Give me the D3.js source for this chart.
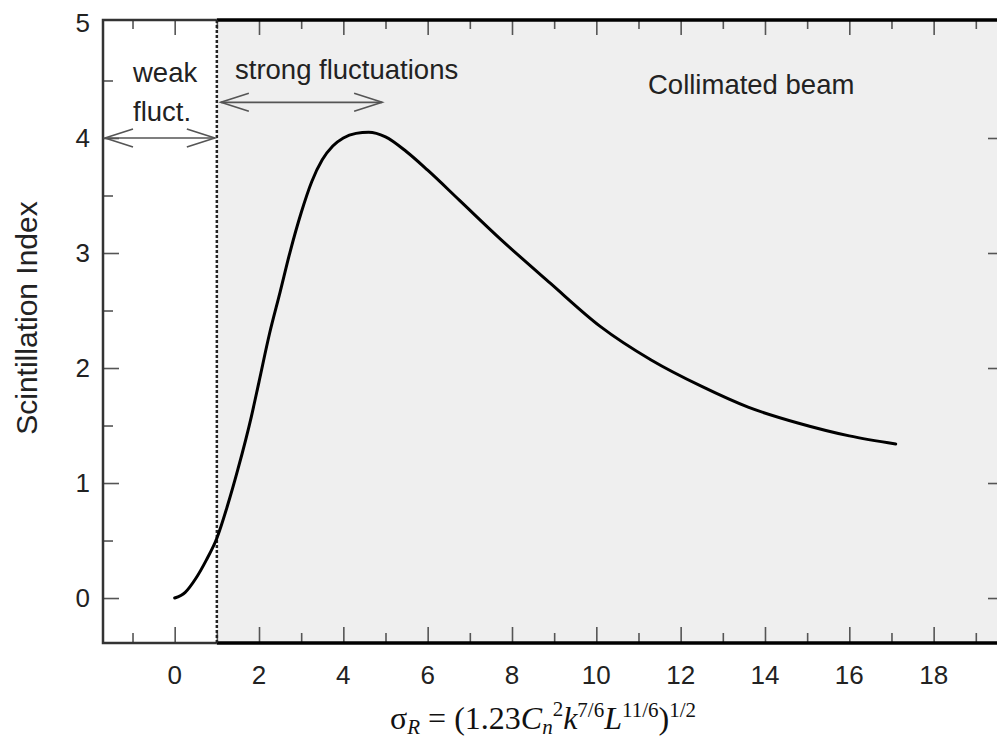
<!DOCTYPE html>
<html>
<head>
<meta charset="utf-8">
<script src="https://cdn.jsdelivr.net/npm/d3@7"></script>
<style>
  html, body { margin: 0; padding: 0; background: #ffffff; }
  svg { display: block; }
</style>
</head>
<body>
<svg id="chart" width="997" height="742"></svg>
<script>
// ---- data ----
const sigmaR = [0, 0.25, 0.5, 0.75, 1, 1.25, 1.5, 1.82, 2.0, 2.25, 2.5, 2.73, 3.0, 3.25, 3.5, 3.75, 4.0, 4.3, 4.6, 5.0, 5.5, 6.0, 6.75, 7.7, 8.9, 10.1, 11.3, 12.5, 13.6, 14.8, 16.0, 17.1];
const scintIndex = [0, 0.05, 0.17, 0.33, 0.52, 0.8, 1.12, 1.58, 1.88, 2.30, 2.66, 3.00, 3.35, 3.62, 3.81, 3.93, 4.00, 4.04, 4.05, 4.01, 3.88, 3.72, 3.46, 3.13, 2.74, 2.36, 2.07, 1.84, 1.66, 1.52, 1.41, 1.34];
const xTickLabels = [0, 2, 4, 6, 8, 10, 12, 14, 16, 18];
const xMinorTicks = [-1, 1, 3, 5, 7, 9, 11, 13, 15, 17, 19];
const yTickLabels = [0, 1, 2, 3, 4, 5];
const yMinorTicks = [0.5, 1.5, 2.5, 3.5, 4.5];
const regimeBoundary = 1;          // weak / strong boundary (sigma_R = 1)
const weakArrowY = 4.0;            // level of the "weak fluct." arrow
const strongArrow = [1, 4.92, 4.31]; // from x, to x, at y
const yTitle = "Scintillation Index";

// ---- layout ----
const svg = d3.select("#chart");
const L = 103, R = 999, T = 20, B = 643;
const x = d3.scaleLinear().domain([-1.7, 19.55]).range([L, R]);
const y = d3.scaleLinear().domain([-0.391, 5.026]).range([B, T]);

// shaded strong-fluctuation region
svg.append("rect")
  .attr("x", x(regimeBoundary)).attr("y", T)
  .attr("width", R - x(regimeBoundary)).attr("height", B - T)
  .attr("fill", "#efefef");

// ticks via axes
const tickCol = "#555";
function styleAxis(g) {
  g.select(".domain").remove();
  g.selectAll(".tick line").attr("stroke", tickCol).attr("stroke-width", 1.6);
  g.selectAll("text").remove();
}
// bottom (inside, pointing up)
svg.append("g").attr("transform", `translate(0,${B})`)
  .call(d3.axisTop(x).tickValues(xTickLabels).tickSize(16)).call(styleAxis);
svg.append("g").attr("transform", `translate(0,${B})`)
  .call(d3.axisTop(x).tickValues(xMinorTicks).tickSize(10)).call(styleAxis);
// top (inside, pointing down)
svg.append("g").attr("transform", `translate(0,${T})`)
  .call(d3.axisBottom(x).tickValues(xTickLabels).tickSize(15)).call(styleAxis);
svg.append("g").attr("transform", `translate(0,${T})`)
  .call(d3.axisBottom(x).tickValues(xMinorTicks).tickSize(9)).call(styleAxis);
// left (inside, pointing right)
svg.append("g").attr("transform", `translate(${L},0)`)
  .call(d3.axisRight(y).tickValues(yTickLabels.slice(0, 5)).tickSize(16)).call(styleAxis);
svg.append("g").attr("transform", `translate(${L},0)`)
  .call(d3.axisRight(y).tickValues(yMinorTicks).tickSize(10)).call(styleAxis);
// right (inside, pointing left)
svg.append("g").attr("transform", `translate(${R - 1},0)`)
  .call(d3.axisLeft(y).tickValues(yTickLabels.slice(0, 5)).tickSize(10)).call(styleAxis);

// tick labels
const labFont = "'Liberation Sans', Arial, Helvetica, sans-serif";
svg.append("g").selectAll("text").data(xTickLabels).join("text")
  .attr("x", d => x(d)).attr("y", 684)
  .attr("text-anchor", "middle")
  .attr("font-family", labFont).attr("font-size", 26).attr("fill", "#222")
  .text(d => d);
svg.append("g").selectAll("text").data(yTickLabels).join("text")
  .attr("x", 90).attr("y", d => y(d) + 9)
  .attr("text-anchor", "end")
  .attr("font-family", labFont).attr("font-size", 26).attr("fill", "#222")
  .text(d => d);

// frame
const bx = x(regimeBoundary);
svg.append("path")
  .attr("d", `M${bx},${T} L${L},${T} L${L},${B} L${bx},${B}`)
  .attr("fill", "none").attr("stroke", "#333").attr("stroke-width", 2.5);
svg.append("line").attr("x1", bx).attr("x2", R + 5).attr("y1", T).attr("y2", T)
  .attr("stroke", "#000").attr("stroke-width", 3.5);
svg.append("line").attr("x1", bx).attr("x2", R + 5).attr("y1", B).attr("y2", B)
  .attr("stroke", "#000").attr("stroke-width", 3.5);

// dotted boundary line
svg.append("line")
  .attr("x1", bx).attr("x2", bx).attr("y1", T).attr("y2", B)
  .attr("stroke", "#222").attr("stroke-width", 2.5).attr("stroke-dasharray", "3,2");

// curve
const line = d3.line().x((d, i) => x(sigmaR[i])).y(d => y(d)).curve(d3.curveMonotoneX);
svg.append("path").datum(scintIndex)
  .attr("d", line).attr("fill", "none")
  .attr("stroke", "#000").attr("stroke-width", 3).attr("stroke-linecap", "round");

// double arrows with open heads
function dblArrow(x1, x2, yy) {
  const g = svg.append("g").attr("stroke", "#555").attr("stroke-width", 1.6).attr("fill", "none");
  g.append("line").attr("x1", x1).attr("x2", x2).attr("y1", yy).attr("y2", yy);
  const hl = 28, hw = 9;
  g.append("path").attr("d", `M${x1 + hl},${yy - hw} L${x1},${yy} L${x1 + hl},${yy + hw}`);
  g.append("path").attr("d", `M${x2 - hl},${yy - hw} L${x2},${yy} L${x2 - hl},${yy + hw}`);
}
dblArrow(L + 2, bx - 2, y(weakArrowY));
dblArrow(x(strongArrow[0]) + 4, x(strongArrow[1]), y(strongArrow[2]));

// annotations
const annFont = "'Liberation Sans', Arial, Helvetica, sans-serif";
function ann(txt, xx, yy) {
  svg.append("text").attr("x", xx).attr("y", yy)
    .attr("font-family", annFont).attr("font-size", 27.5).attr("fill", "#222").text(txt);
}
ann("weak", 133, 82);
ann("fluct.", 133, 121);
ann("strong fluctuations", 235, 79);
ann("Collimated beam", 648, 94);

// y title
svg.append("text")
  .attr("transform", "translate(37,318) rotate(-90)")
  .attr("text-anchor", "middle")
  .attr("font-family", labFont).attr("font-size", 30).attr("fill", "#222")
  .text(yTitle);

// x title (formula)
const xt = svg.append("text").attr("x", 390).attr("y", 729)
  .attr("font-family", "'Liberation Serif', 'Times New Roman', serif")
  .attr("font-size", 32).attr("fill", "#111");
xt.append("tspan").text("σ");
xt.append("tspan").attr("font-style", "italic").attr("font-size", 21).attr("dy", 5).text("R");
xt.append("tspan").attr("dy", -5).text(" = (1.23");
xt.append("tspan").attr("font-style", "italic").text("C");
xt.append("tspan").attr("font-style", "italic").attr("font-size", 21).attr("dy", 5).text("n");
xt.append("tspan").attr("font-size", 21).attr("dy", -18).text("2");
xt.append("tspan").attr("font-style", "italic").attr("dy", 13).text("k");
xt.append("tspan").attr("font-size", 21).attr("dy", -12).text("7/6");
xt.append("tspan").attr("font-style", "italic").attr("dy", 12).text("L");
xt.append("tspan").attr("font-size", 21).attr("dy", -12).text("11/6");
xt.append("tspan").attr("dy", 12).text(")");
xt.append("tspan").attr("font-size", 21).attr("dy", -12).text("1/2");
</script>
</body>
</html>
